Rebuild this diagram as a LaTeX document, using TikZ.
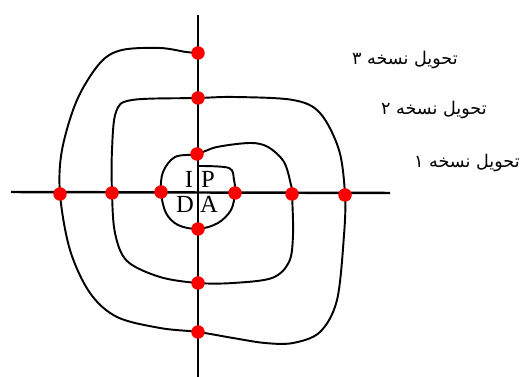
\documentclass[tikz,border=0pt]{standalone}
\usepackage{fontspec}
\usepackage{xcolor}
\setmainfont{Liberation Serif}
\newfontfamily\arabicfont[Script=Arabic]{DejaVu Sans}
\TeXXeTstate=1
\definecolor{dotred}{RGB}{250,0,0}
\tikzset{
  axisline/.style={line width=1.4pt},
  spiralline/.style={line width=1.1pt},
  hitdot/.style={circle, fill=dotred, inner sep=0pt, minimum size=0.27cm},
  versionlabel/.style={anchor=east, inner sep=0pt, font=\arabicfont\fontsize{10}{12}\selectfont},
  phaselabel/.style={font=\fontsize{14}{16}\selectfont, inner sep=0pt}
}

\begin{document}
\begin{tikzpicture}[x=0.02cm, y=-0.02cm]
  \useasboundingbox (0,0) rectangle (527,377);

  % Axes
  \coordinate (top) at (198,15);
  \coordinate (bottom) at (198,377);
  \coordinate (left) at (11,192);
  \coordinate (right) at (390,193);
  \draw[axisline] (top) -- (bottom);
  \draw[axisline] (left) -- (right);

  % Phase letters
  \node[phaselabel] (phI) at (189,179) {I};
  \node[phaselabel] (phP) at (208,179) {P};
  \node[phaselabel] (phD) at (185,204) {D};
  \node[phaselabel] (phA) at (209,204) {A};

  % Crossing points
  \coordinate (start) at (199,166);
  \coordinate (v1) at (197,154);
  \coordinate (v2) at (198,98);
  \coordinate (v3) at (198,53);
  \coordinate (w1) at (198,229);
  \coordinate (w2) at (198,283);
  \coordinate (w3) at (198,332);
  \coordinate (l1) at (161,192);
  \coordinate (l2) at (112,193);
  \coordinate (l3) at (60,194);
  \coordinate (r1) at (235,193);
  \coordinate (r2) at (292,194);
  \coordinate (r3) at (345,195);

  % Spiral
  \draw[spiralline] plot[smooth, tension=0.55] coordinates {
    (start) (229,168) (234,180) (r1) (231,210) (218,223) (w1)
    (178,225) (166,213) (l1) (163,172) (175,157) (v1)
    (217,147) (250,143) (268,147) (284,162) (291,185) (r2)
    (293,235) (289,262) (272,278) (233,283) (w2)
    (160,277) (127,261) (115,233) (l2)
    (112,150) (116,112) (132,100) (v2)
    (235,97) (293,100) (320,113) (339,150) (r3)
    (344,235) (337,300) (320,332) (293,343) (265,343) (233,338) (w3)
    (160,328) (117,317) (90,293) (70,250) (l3)
    (62,150) (77,100) (100,63) (122,50) (160,48) (186,52) (v3)};

  % Red dots on top
  \foreach \p in {v1,v2,v3,w1,w2,w3,l1,l2,l3,r1,r2,r3}
    \node[hitdot] (\p dot) at (\p) {};

  % Version labels
  \node[versionlabel] (ver3) at (458,60) {\beginR تحویل نسخه ۳\endR};
  \node[versionlabel] (ver2) at (487,110) {\beginR تحویل نسخه ۲\endR};
  \node[versionlabel] (ver1) at (520,163) {\beginR تحویل نسخه ۱\endR};
\end{tikzpicture}
\end{document}
